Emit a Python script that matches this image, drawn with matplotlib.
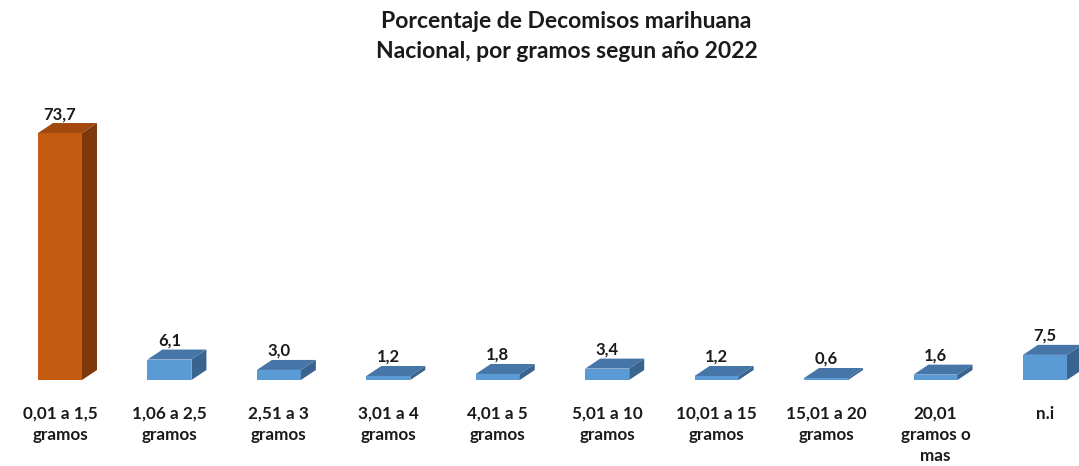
import matplotlib
matplotlib.use("Agg")
import matplotlib.pyplot as plt
from matplotlib.patches import Polygon

categories = ["0,01 a 1,5\ngramos", "1,06 a 2,5\ngramos", "2,51 a 3\ngramos",
              "3,01 a 4\ngramos", "4,01 a 5\ngramos", "5,01 a 10\ngramos",
              "10,01 a 15\ngramos", "15,01 a 20\ngramos", "20,01\ngramos o\nmas", "n.i"]
values = [73.7, 6.1, 3.0, 1.2, 1.8, 3.4, 1.2, 0.6, 1.6, 7.5]
value_labels = ["73,7", "6,1", "3,0", "1,2", "1,8", "3,4", "1,2", "0,6", "1,6", "7,5"]
title = "Porcentaje de Decomisos marihuana\nNacional, por gramos segun año 2022"

FONT = ["Lato", "DejaVu Sans"]
W, H = 1079, 466
fig = plt.figure(figsize=(W / 100, H / 100), dpi=100)
ax = fig.add_axes([0, 0, 1, 1])

px_x = 109.44          # pixels per category
px_y = 3.351           # pixels per value unit
x0_px, base_px = 60, 86  # first category centre, baseline from bottom
ax.set_xlim(-x0_px / px_x, (W - x0_px) / px_x)
ax.set_ylim(-base_px / px_y, (H - base_px) / px_y)
ax.axis("off")

bw = 44 / px_x
dx = 15 / px_x
dy = 10 / px_y

styles = {
    "orange": ("#C55A11", "#A3490F", "#7E380C"),
    "blue": ("#5B9BD5", "#4676A8", "#3A6490"),
}

for i, v in enumerate(values):
    front, top, side = styles["orange"] if i == 0 else styles["blue"]
    ax.bar(i, v, width=bw, color=front, edgecolor="none", zorder=3)
    l, r = i - bw / 2, i + bw / 2
    ax.add_patch(Polygon([(l, v), (r, v), (r + dx, v + dy), (l + dx, v + dy)],
                         closed=True, facecolor=top, edgecolor="none", zorder=3))
    ax.add_patch(Polygon([(r, 0), (r + dx, dy), (r + dx, v + dy), (r, v)],
                         closed=True, facecolor=side, edgecolor="none", zorder=3))
    ax.text(i, v + dy + 0.3, value_labels[i], ha="center", va="bottom",
            fontsize=12, fontweight="bold", family=FONT, color="#1a1a1a")
    ax.text(i, -base_px / px_y + 60 / px_y, categories[i], ha="center", va="top",
            fontsize=12.3, fontweight="bold", family=FONT, color="#1a1a1a",
            linespacing=1.38)

fig.text(0.525, 1 - 11 / H, title, ha="center", va="top", fontsize=16.5,
         fontweight="bold", family=FONT, color="#1a1a1a", linespacing=1.5)

fig.savefig("out.png", dpi=100)
